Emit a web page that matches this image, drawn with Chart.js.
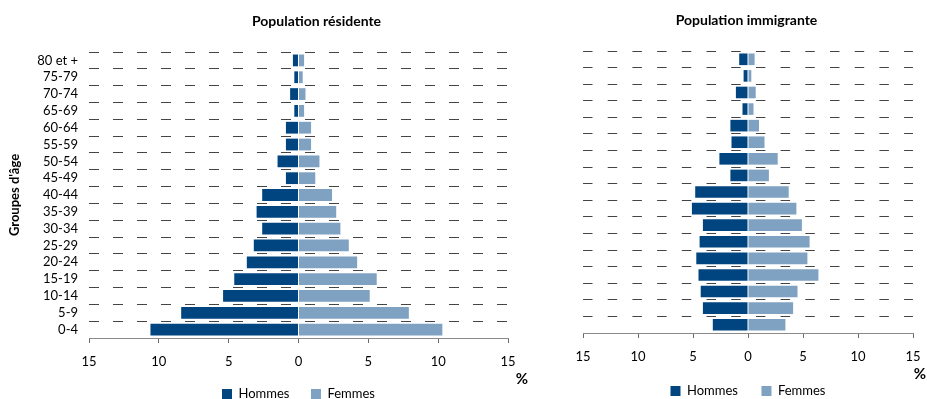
<!DOCTYPE html>
<html lang="fr">
<head>
<meta charset="utf-8">
<title>Pyramides des âges</title>
<script src="https://cdn.jsdelivr.net/npm/chart.js@4/dist/chart.umd.min.js"></script>
<style>
  html, body { margin: 0; padding: 0; background: #fff; }
  #page { position: relative; width: 927px; height: 399px; overflow: hidden; }
  .panel { position: absolute; top: 0; }
  #leftPanel { left: 0; width: 560px; height: 412px; }
  #rightPanel { left: 560px; width: 367px; height: 412px; }
</style>
</head>
<body>
<div id="page">
  <div class="panel" id="leftPanel"><canvas id="residente" width="560" height="412"></canvas></div>
  <div class="panel" id="rightPanel"><canvas id="immigrante" width="367" height="412"></canvas></div>
</div>
<script>
// Groupes d'âge, du plus jeune (en bas) au plus âgé (en haut)
const categories = ['0-4', '5-9', '10-14', '15-19', '20-24', '25-29', '30-34', '35-39',
  '40-44', '45-49', '50-54', '55-59', '60-64', '65-69', '70-74', '75-79', '80 et +'];

// Population résidente (%)
const hommesResidente = [10.6, 8.4, 5.4, 4.6, 3.7, 3.2, 2.6, 3.0, 2.6, 0.9, 1.5, 0.9, 0.9, 0.3, 0.6, 0.3, 0.4];
const femmesResidente = [10.3, 7.9, 5.1, 5.6, 4.2, 3.6, 3.0, 2.7, 2.4, 1.2, 1.5, 0.9, 0.9, 0.4, 0.5, 0.3, 0.4];

// Population immigrante (%)
const hommesImmigrante = [3.2, 4.1, 4.3, 4.5, 4.7, 4.4, 4.1, 5.1, 4.8, 1.6, 2.6, 1.5, 1.6, 0.5, 1.1, 0.4, 0.8];
const femmesImmigrante = [3.4, 4.1, 4.5, 6.4, 5.4, 5.6, 4.9, 4.4, 3.7, 1.9, 2.7, 1.5, 1.0, 0.5, 0.7, 0.3, 0.6];

// Axe des pourcentages
const axisMin = -15;
const axisMax = 15;
const axisStep = 5;

const seriesNames = ['Hommes', 'Femmes'];
const colorHommes = '#00457f';
const colorFemmes = '#7fa2c2';
const fontFamily = 'Lato, "Open Sans", "DejaVu Sans", sans-serif';

Chart.defaults.font.family = fontFamily;
Chart.defaults.font.size = 13;
Chart.defaults.color = '#000';

// Titre du panneau et unité « % » à droite de l'axe
const panelText = {
  id: 'panelText',
  afterDraw(chart, args, opts) {
    const ctx = chart.ctx;
    const area = chart.chartArea;
    ctx.save();
    ctx.fillStyle = '#000';
    ctx.textAlign = 'center';
    ctx.textBaseline = 'middle';
    ctx.font = 'bold 14px ' + fontFamily;
    ctx.fillText(opts.title, opts.titleX, opts.titleY);
    ctx.font = 'bold 15px ' + fontFamily;
    ctx.fillText(opts.unit, area.right + opts.unitDx, area.bottom + opts.unitDy);
    ctx.restore();
  }
};

function buildPyramid(canvasId, hommes, femmes, cfg) {
  return new Chart(document.getElementById(canvasId), {
    type: 'bar',
    data: {
      labels: categories,
      datasets: [
        {
          label: seriesNames[0],
          data: hommes.map(v => -v),
          backgroundColor: colorHommes,
          borderWidth: 0
        },
        {
          label: seriesNames[1],
          data: femmes,
          backgroundColor: colorFemmes,
          borderWidth: 0
        }
      ]
    },
    options: {
      indexAxis: 'y',
      responsive: false,
      animation: false,
      devicePixelRatio: 1,
      layout: { padding: cfg.padding },
      datasets: {
        bar: { barPercentage: 0.7, categoryPercentage: 1.0 }
      },
      scales: {
        x: {
          type: 'linear',
          stacked: true,
          min: axisMin,
          max: axisMax,
          afterFit(scale) {
            scale.height = 28;
            scale.paddingLeft = 0;
            scale.paddingRight = 0;
          },
          ticks: {
            stepSize: axisStep,
            padding: 11,
            maxRotation: 0,
            color: '#000',
            font: { size: 13 },
            callback: v => String(Math.abs(v))
          },
          grid: {
            display: true,
            drawOnChartArea: false,
            drawTicks: true,
            tickLength: 5,
            color: '#6a6a6a'
          },
          border: { display: true, color: '#8a8a8a', width: 1 }
        },
        y: {
          type: 'category',
          stacked: true,
          reverse: true,
          afterFit(scale) { scale.width = cfg.yWidth; },
          ticks: {
            display: cfg.showLabels,
            autoSkip: false,
            padding: 11,
            color: '#000',
            font: { size: 13 }
          },
          grid: {
            display: true,
            offset: true,
            drawTicks: false,
            drawOnChartArea: true,
            color: '#444',
            lineWidth: 1
          },
          border: { display: false, dash: cfg.dash, dashOffset: 0 },
          title: {
            display: cfg.showLabels,
            text: "Groupes d'âge",
            color: '#000',
            font: { size: 13, weight: 'bold' },
            padding: { top: 7, bottom: 0 }
          }
        }
      },
      plugins: {
        legend: {
          display: true,
          position: 'bottom',
          fullSize: false,
          labels: {
            boxWidth: 10,
            boxHeight: 10,
            padding: cfg.legendPadding,
            color: '#000',
            font: { size: 13 }
          }
        },
        tooltip: { enabled: false },
        panelText: {
          title: cfg.title,
          titleX: cfg.titleX,
          titleY: cfg.titleY,
          unit: '%',
          unitDx: cfg.unitDx,
          unitDy: cfg.unitDy
        }
      }
    },
    plugins: [panelText]
  });
}

buildPyramid('residente', hommesResidente, femmesResidente, {
  padding: { left: 0, right: 52, top: 52, bottom: 1.5 },
  yWidth: 89,
  showLabels: true,
  dash: [10, 14],
  legendPadding: 21.5,
  title: 'Population résidente',
  titleX: 316.5,
  titleY: 21,
  unitDx: 14,
  unitDy: 41
});

buildPyramid('immigrante', hommesImmigrante, femmesImmigrante, {
  padding: { left: 23, right: 14, top: 51, bottom: 4.5 },
  yWidth: 0,
  showLabels: false,
  dash: [9.5, 15.2],
  legendPadding: 23.5,
  title: 'Population immigrante',
  titleX: 186.5,
  titleY: 20,
  unitDx: 7,
  unitDy: 41
});
</script>
</body>
</html>
